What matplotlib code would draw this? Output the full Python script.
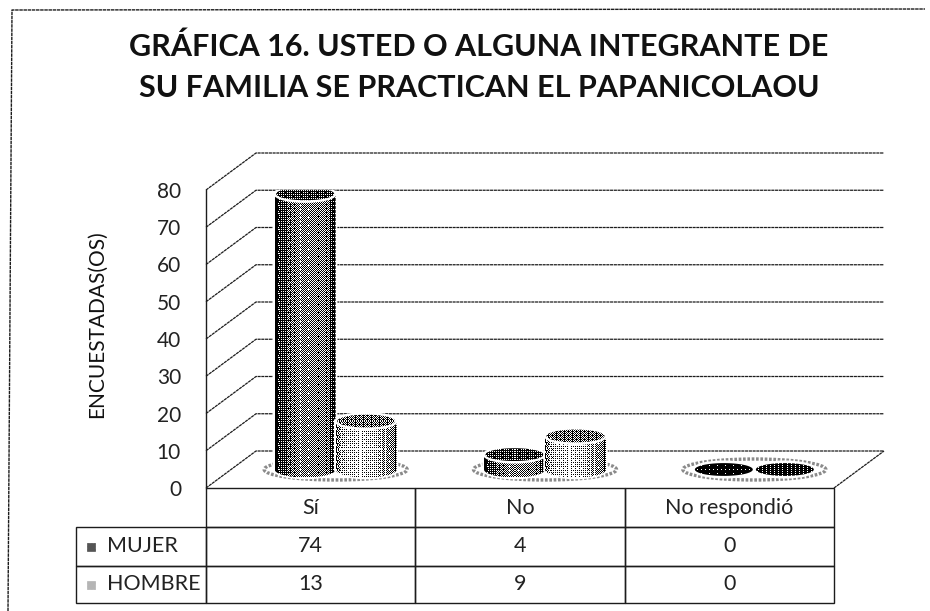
import numpy as np
import matplotlib
matplotlib.use("Agg")
import matplotlib.pyplot as plt
from matplotlib.lines import Line2D
from matplotlib.patches import Polygon, Ellipse, Rectangle

# datos de la grafica
categorias = ["Sí", "No", "No respondió"]
mujer = [74, 4, 0]
hombre = [13, 9, 0]
series = ["MUJER", "HOMBRE"]
ticks_y = [0, 10, 20, 30, 40, 50, 60, 70, 80]
titulo = "GRÁFICA 16. USTED O ALGUNA INTEGRANTE DE\nSU FAMILIA SE PRACTICAN EL PAPANICOLAOU"

plt.rcParams['font.family'] = ['Lato', 'DejaVu Sans']
W, H = 930, 611
NEGRO = '#1c1c1c'

# posicion del plano frontal en pixeles
x0, x1, y0, y1 = 206, 834, 488, 190
fig = plt.figure(figsize=(W / 100, H / 100), dpi=100)
ax = fig.add_axes([x0 / W, 1 - y0 / H, (x1 - x0) / W, (y0 - y1) / H])
ax.set_xlim(0, 3)
ax.set_ylim(0, 80)
ax.patch.set_alpha(0)

ux = 3 / (x1 - x0)    # unidades de dato por pixel
uy = 80 / (y0 - y1)
fondo_x = 50 * ux
fondo_y = 37 * uy

# paredes y rejilla
estilo = dict(color=NEGRO, lw=0.9, ls=(0, (2.5, 0.5)), clip_on=False, zorder=1)
for t in ticks_y:
    ax.plot([0, fondo_x, 3 + fondo_x], [t, t + fondo_y, t + fondo_y], **estilo)
ax.plot([3, 3 + fondo_x], [0, fondo_y], **estilo)

for lado in ['top', 'right', 'bottom']:
    ax.spines[lado].set_visible(False)
ax.spines['left'].set_color(NEGRO)
ax.spines['left'].set_linewidth(1.0)
ax.set_xticks([])
ax.set_yticks(ticks_y)
ax.tick_params(axis='y', length=0, pad=18, labelsize=15, labelcolor='#222222')
ax.set_ylabel("ENCUESTADAS(OS)", fontsize=15, color='#111111')
ax.yaxis.set_label_coords((107 - x0) / (x1 - x0), (y0 - 324) / (y0 - y1))

# trama de puntos para imitar la fotocopia
bayer = np.array([[0, 32, 8, 40, 2, 34, 10, 42],
                  [48, 16, 56, 24, 50, 18, 58, 26],
                  [12, 44, 4, 36, 14, 46, 6, 38],
                  [60, 28, 52, 20, 62, 30, 54, 22],
                  [3, 35, 11, 43, 1, 33, 9, 41],
                  [51, 19, 59, 27, 49, 17, 57, 25],
                  [15, 47, 7, 39, 13, 45, 5, 37],
                  [63, 31, 55, 23, 61, 29, 53, 21]]) / 64 + 1 / 128


def trama(tono):
    alto, ancho = tono.shape
    rep = np.tile(bayer, (alto // 8 + 1, ancho // 8 + 1))[:alto, :ancho]
    # cada fila se desplaza distinto para que no salgan rayas verticales
    for r in range(alto):
        rep[r] = np.roll(rep[r], (r * r * 3 + r) % 8)
    return (tono > rep).astype(float)


def pintar(xa, xb, ya, yb, pos, val, clip, z):
    nx = max(int(round((xb - xa) / ux)), 2)
    ny = max(int(round((yb - ya) / uy)), 2)
    u = np.linspace(0, 1, nx)
    tono = np.tile(np.interp(u, pos, val), (ny, 1))
    im = ax.imshow(trama(tono), extent=[xa, xb, ya, yb], cmap='gray', vmin=0, vmax=1,
                   aspect='auto', interpolation='nearest', zorder=z)
    parche = Polygon(clip, closed=True, transform=ax.transData)
    im.set_clip_path(parche)


ancho_c = 61 * ux
alto_e = 16 * uy
base = fondo_y / 2
ang = np.linspace(0, 2 * np.pi, 90)


def cilindro(xc, valor, tonos, tapa, z):
    a = ancho_c / 2
    b = alto_e / 2
    arriba = base + valor
    if valor > 0:
        abajo_x = xc + a * np.cos(ang[45:])[::-1]
        abajo_y = base + b * np.sin(ang[45:])[::-1]
        cuerpo = np.column_stack([
            np.r_[xc - a, xc + a, abajo_x],
            np.r_[arriba, arriba, abajo_y]])
        ax.add_patch(Polygon(cuerpo, closed=True, fc='white', ec='white', lw=2.5, zorder=z))
        pintar(xc - a, xc + a, base - b, arriba, [0, 0.07, 0.4, 0.85, 1], tonos, cuerpo, z + 0.1)
    ax.add_patch(Ellipse((xc, arriba), ancho_c, alto_e, fc='white', ec='white', lw=1.5, zorder=z + 0.2))
    tapa_xy = np.column_stack([xc + a * 0.95 * np.cos(ang), arriba + b * 0.8 * np.sin(ang)])
    pintar(xc - a, xc + a, arriba - b, arriba + b, [0, 1], [tapa, tapa], tapa_xy, z + 0.3)


tonos_m = [0.0, 0.2, 0.55, 0.45, 0.1]
tonos_h = [0.35, 0.68, 0.88, 0.62, 0.3]
for i in range(len(categorias)):
    xc = i + 0.5 + fondo_x / 2
    halo = Ellipse((xc, base), 143 * ux, 21 * uy, fc='white', ec='#8a8a8a', lw=2.4,
                   ls=(0, (0.8, 0.5)), zorder=2)
    ax.add_patch(halo)
    tapa_m = 0.05 if mujer[i] == 0 else 0.22
    tapa_h = 0.12 if hombre[i] == 0 else 0.4
    cilindro(xc - ancho_c / 2, mujer[i], tonos_m, tapa_m, 3)
    cilindro(xc + ancho_c / 2, hombre[i], tonos_h, tapa_h, 4)

# tabla de datos, la primera columna lleva los nombres de las series
t_izq = 76
t_abajo = 603
filas = [[""] + categorias,
         [series[0]] + [str(m) for m in mujer],
         [series[1]] + [str(h) for h in hombre]]
tabla = ax.table(cellText=filas, cellLoc='center',
                 bbox=[(t_izq - x0) / (x1 - x0), (y0 - t_abajo) / (y0 - y1),
                       (x1 - t_izq) / (x1 - x0), (t_abajo - y0) / (y0 - y1)])
tabla.auto_set_font_size(False)
altos = [39, 39, 37]
for (f, c), celda in tabla.get_celld().items():
    celda.set_edgecolor(NEGRO)
    celda.set_linewidth(1.0)
    celda.set_height(altos[f])
    celda.get_text().set_fontsize(15.5)
    celda.get_text().set_color('#222222')
    celda.set_facecolor('none')
    if c == 0:
        celda.set_width(130)
        celda.PAD = 31 / 130
        celda.get_text().set_horizontalalignment('left')
        if f == 0:
            celda.visible_edges = ''
    else:
        celda.set_width((x1 - x0) / 3)

# muestras de la leyenda
for yc, tono in zip([547, 585], ['#555555', '#b5b5b5']):
    ax.add_patch(Rectangle(((87 - x0) * ux, (y0 - yc - 4) * uy), 8 * ux, 8 * uy, fc=tono,
                           ec=tono, hatch='.....', lw=0.5, clip_on=False, zorder=5))

fig.text(479 / W, 1 - 67 / H, titulo, ha='center', va='center', fontsize=22,
         fontweight='bold', color='#111111', linespacing=1.55)

# marco exterior, solo izquierda y arriba
marco = dict(color=NEGRO, lw=1.0, ls=(0, (2.5, 0.5)), transform=fig.transFigure)
fig.add_artist(Line2D([8 / W, 12 / W, 925 / W], [0, 1 - 10 / H, 1 - 9 / H], **marco))

fig.savefig("out.png", dpi=100)
